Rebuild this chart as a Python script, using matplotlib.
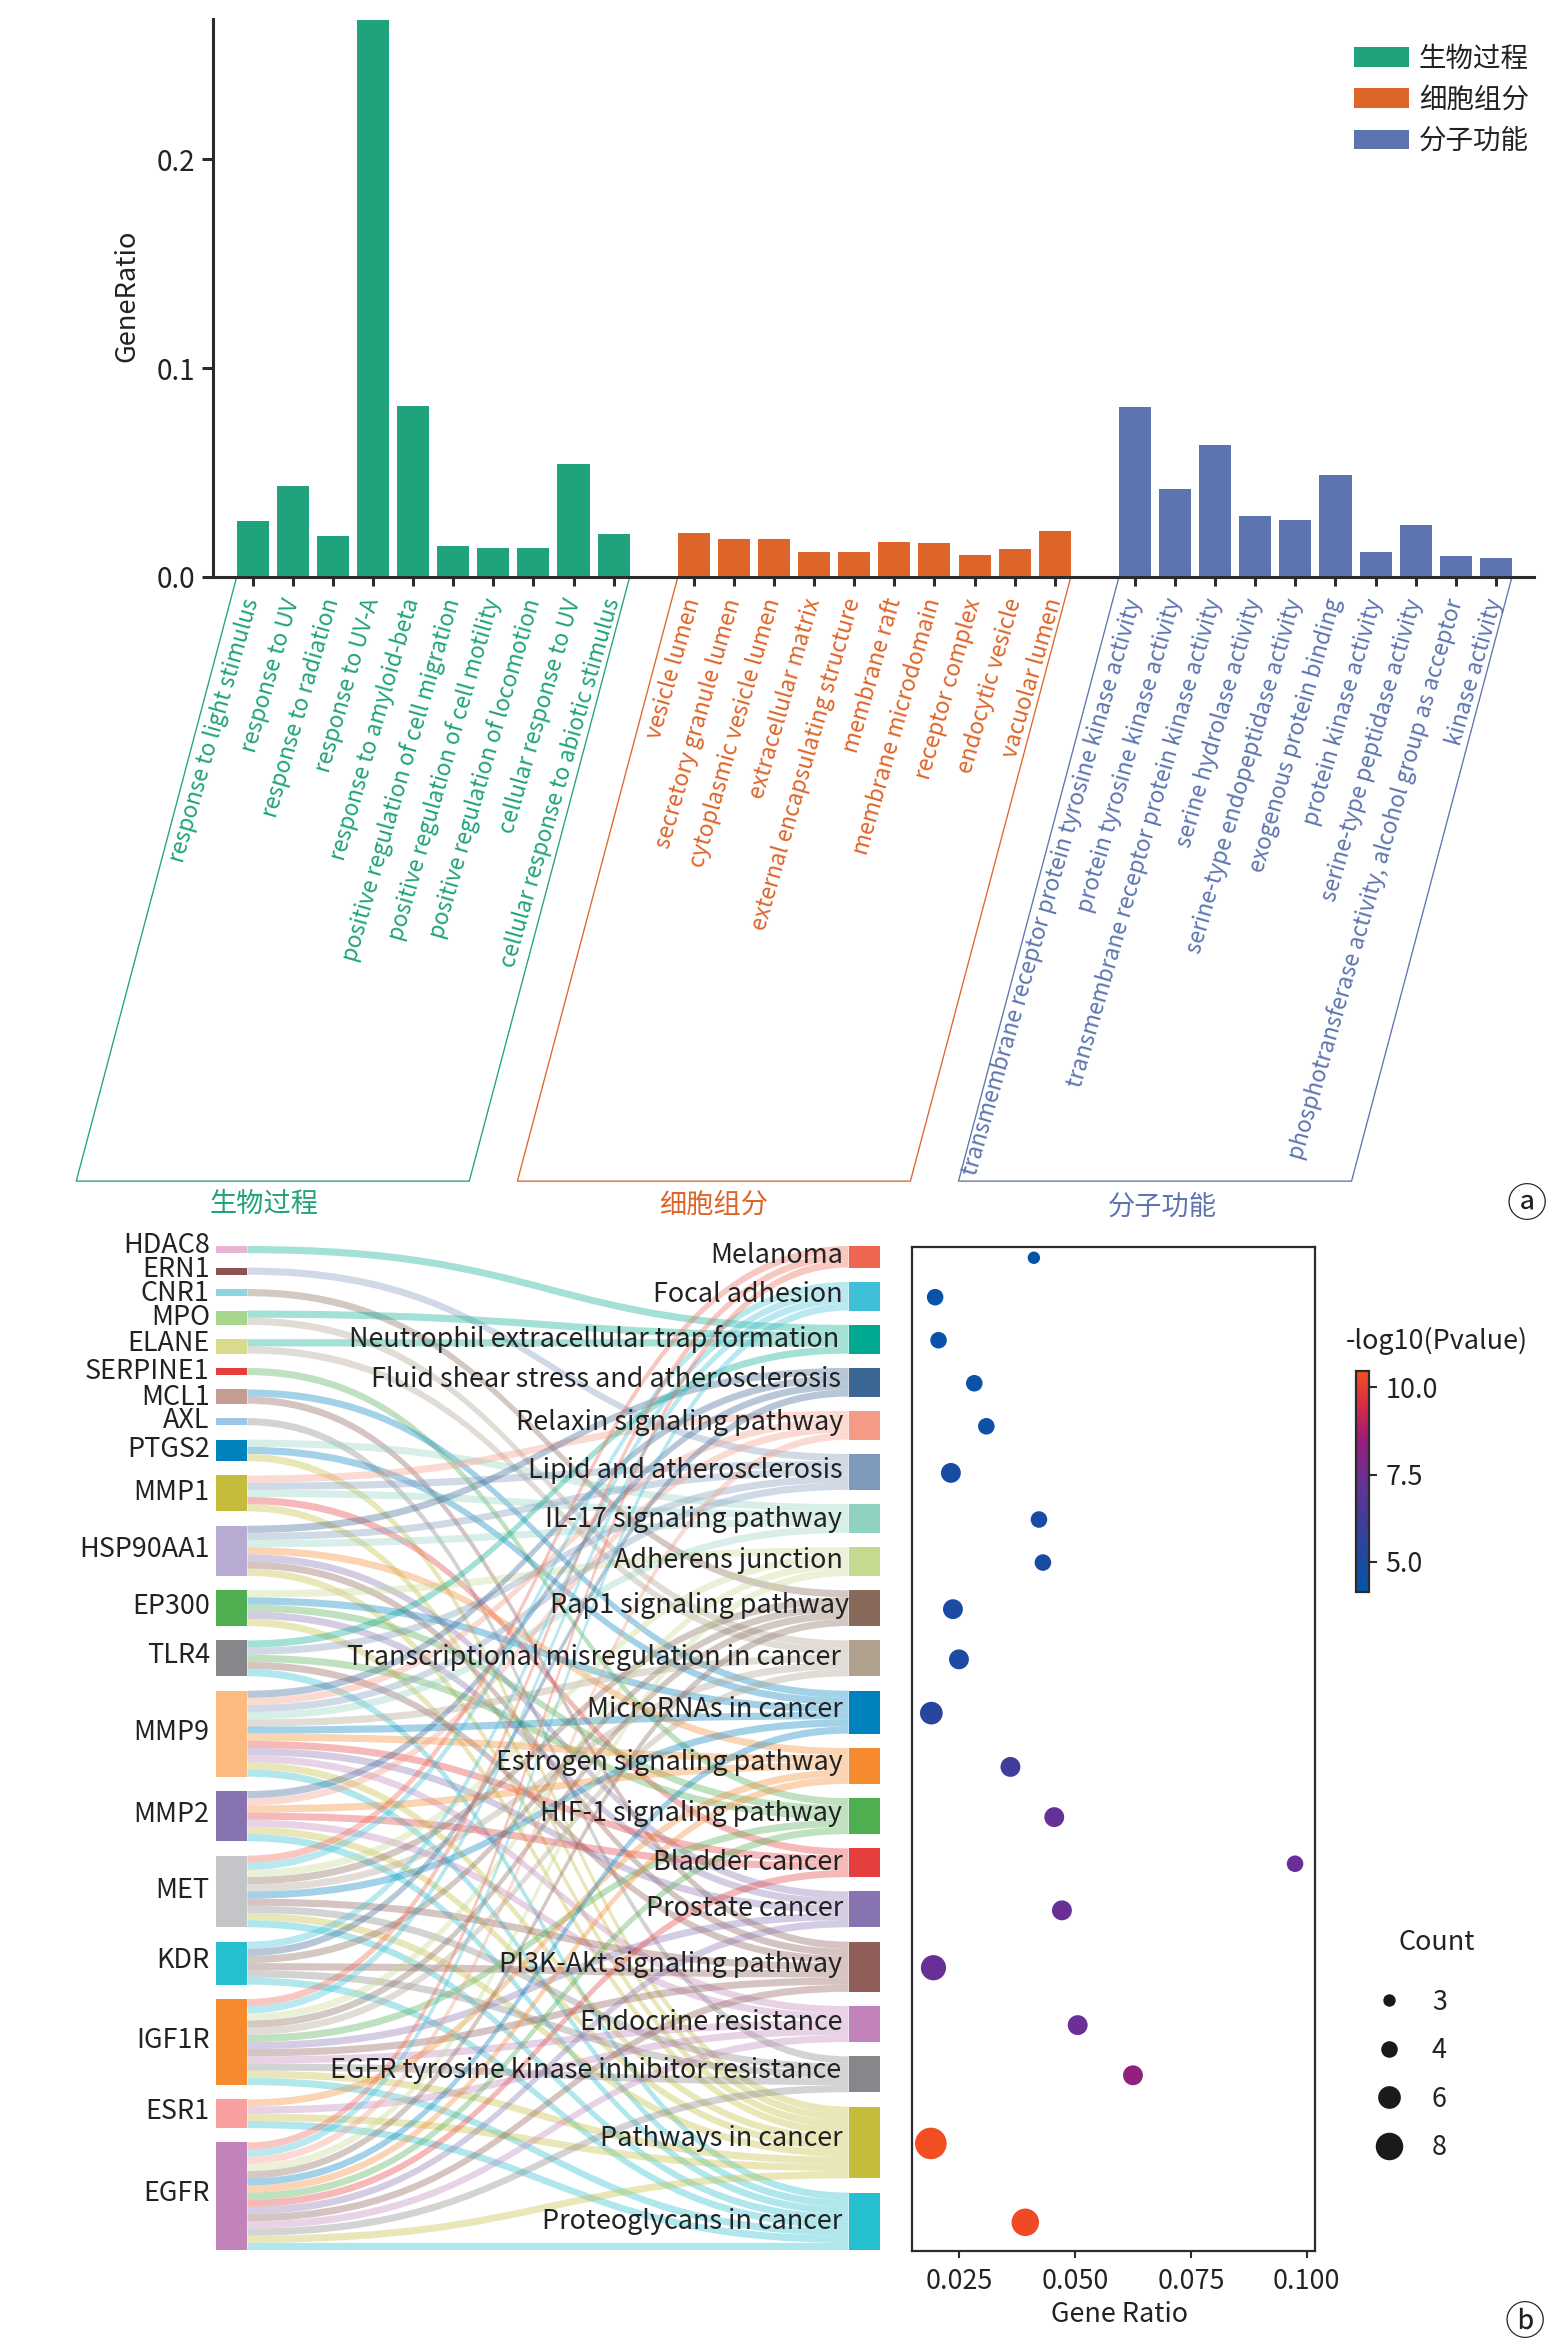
import matplotlib
matplotlib.use('Agg')
import matplotlib.pyplot as plt
import numpy as np
from matplotlib.path import Path
from matplotlib.patches import PathPatch, Patch
from matplotlib.lines import Line2D
from matplotlib.colors import LinearSegmentedColormap

plt.rcParams['font.family'] = ['Noto Sans CJK SC', 'DejaVu Sans']
W, H = 1547, 2339
DARK = '#2b2b2b'
TXT = '#222222'
FS = 19.4

def rect(l, t, r, b):
    return [l / W, 1 - b / H, (r - l) / W, (b - t) / H]

# ---------- panel a data ----------
group_names = ['生物过程', '细胞组分', '分子功能']
group_colors = ['#20A37C', '#DE6529', '#5C75B0']
bp_terms = ['response to light stimulus', 'response to UV', 'response to radiation', 'response to UV-A',
            'response to amyloid-beta', 'positive regulation of cell migration',
            'positive regulation of cell motility', 'positive regulation of locomotion',
            'cellular response to UV', 'cellular response to abiotic stimulus']
bp_values = [0.0266, 0.0437, 0.0196, 0.2667, 0.082, 0.0147, 0.0141, 0.0138, 0.0541, 0.0205]
cc_terms = ['vesicle lumen', 'secretory granule lumen', 'cytoplasmic vesicle lumen', 'extracellular matrix',
            'external encapsulating structure', 'membrane raft', 'membrane microdomain', 'receptor complex',
            'endocytic vesicle', 'vacuolar lumen']
cc_values = [0.0211, 0.0183, 0.018, 0.012, 0.0118, 0.0168, 0.0164, 0.0107, 0.0134, 0.0218]
mf_terms = ['transmembrane receptor protein tyrosine kinase activity', 'protein tyrosine kinase activity',
            'transmembrane receptor protein kinase activity', 'serine hydrolase activity',
            'serine-type endopeptidase activity', 'exogenous protein binding', 'protein kinase activity',
            'serine-type peptidase activity', 'phosphotransferase activity, alcohol group as acceptor',
            'kinase activity']
mf_values = [0.0813, 0.042, 0.063, 0.029, 0.0275, 0.0489, 0.0118, 0.0248, 0.0099, 0.0092]

# ---------- panel b data ----------
pathways = ['Melanoma', 'Focal adhesion', 'Neutrophil extracellular trap formation',
            'Fluid shear stress and atherosclerosis', 'Relaxin signaling pathway', 'Lipid and atherosclerosis',
            'IL-17 signaling pathway', 'Adherens junction', 'Rap1 signaling pathway',
            'Transcriptional misregulation in cancer', 'MicroRNAs in cancer', 'Estrogen signaling pathway',
            'HIF-1 signaling pathway', 'Bladder cancer', 'Prostate cancer', 'PI3K-Akt signaling pathway',
            'Endocrine resistance', 'EGFR tyrosine kinase inhibitor resistance', 'Pathways in cancer',
            'Proteoglycans in cancer']
pathway_colors = ['#EE6650', '#40C0D8', '#00A98F', '#3C6694', '#F39B85', '#7F99BC', '#91D1C2', '#C5D98F',
                  '#88695A', '#B0A08E', '#0082BF', '#F58A2E', '#4FAE4F', '#E53E3E', '#8673AF', '#8F5E58',
                  '#C183BA', '#85878A', '#C4BC3A', '#25BFCF']
gene_ratio = [0.04115, 0.01986, 0.0206, 0.0283, 0.0309, 0.02326, 0.04225, 0.0431, 0.0237, 0.025, 0.01904,
              0.0361, 0.04555, 0.09747, 0.0472, 0.0195, 0.0506, 0.06252, 0.01894, 0.0393]
log_p = [4.3, 4.4, 4.4, 4.5, 4.5, 4.9, 4.9, 4.9, 5.0, 5.0, 5.5, 6.2, 7.2, 7.3, 7.3, 7.3, 7.4, 8.3, 10.4, 10.3]

genes = ['HDAC8', 'ERN1', 'CNR1', 'MPO', 'ELANE', 'SERPINE1', 'MCL1', 'AXL', 'PTGS2', 'MMP1', 'HSP90AA1',
         'EP300', 'TLR4', 'MMP9', 'MMP2', 'MET', 'KDR', 'IGF1R', 'ESR1', 'EGFR']
gene_colors = ['#E9B3D6', '#8C5252', '#8FD4E0', '#A6D68A', '#DBDB8D', '#E53E3E', '#C49C94', '#9EC5E8',
               '#0082BF', '#C4BC3A', '#B7ABD4', '#4FAE4F', '#85878A', '#FDBA7E', '#8673AF', '#C4C5C8',
               '#25BFCF', '#F58A2E', '#F8A0A0', '#C183BA']
HDAC8 = [2]
ERN1 = [5]
CNR1 = [8]
MPO = [2, 9]
ELANE = [2, 9]
SERPINE1 = [12]
MCL1 = [10, 15]
AXL = [17]
PTGS2 = [6, 10, 18]
MMP1 = [4, 5, 6, 13, 18]
HSP90AA1 = [3, 5, 6, 11, 14, 15, 18]
EP300 = [7, 10, 12, 14, 18]
TLR4 = [2, 5, 12, 15, 19]
MMP9 = [3, 4, 5, 6, 9, 10, 11, 13, 14, 16, 18, 19]
MMP2 = [3, 4, 11, 13, 16, 18, 19]
MET = [0, 1, 7, 8, 9, 10, 15, 17, 18, 19]
KDR = [1, 3, 8, 15, 17, 19]
IGF1R = [0, 1, 7, 8, 9, 12, 14, 15, 16, 17, 18, 19]
ESR1 = [11, 16, 18, 19]
EGFR = [0, 1, 4, 7, 8, 10, 11, 12, 13, 14, 15, 16, 17, 18, 19]
gene_links = [HDAC8, ERN1, CNR1, MPO, ELANE, SERPINE1, MCL1, AXL, PTGS2, MMP1, HSP90AA1, EP300, TLR4, MMP9,
              MMP2, MET, KDR, IGF1R, ESR1, EGFR]
legend_counts = [3, 4, 6, 8]

fig = plt.figure(figsize=(W / 100, H / 100), dpi=100, facecolor='white')

# ---------- panel a ----------
ax = fig.add_axes(rect(213, 19, 1534, 577))
term_groups = [bp_terms, cc_terms, mf_terms]
value_groups = [bp_values, cc_values, mf_values]
starts = [0, 11, 22]
all_pos, all_lab, all_col = [], [], []
for g, (terms, vals, s, c) in enumerate(zip(term_groups, value_groups, starts, group_colors)):
    pos = np.arange(len(terms)) + s
    ax.bar(pos, vals, width=0.8, color=c, edgecolor='none')
    all_pos += list(pos); all_lab += terms; all_col += [c] * len(terms)
    depth = -0.2893
    shift = 4.0
    x0, x1 = pos[0] - 0.4, pos[-1] + 0.4
    ax.plot([x0, x0 - shift, x1 - shift, x1], [0, depth, depth, 0], color=c, lw=0.95, clip_on=False,
            solid_joinstyle='miter')
    ax.annotate(group_names[g], ((x0 + x1) / 2 - shift, depth), xytext=([-9, 0, 7][g] * 0.72, [-17, -17, -19][g]),
                textcoords='offset points', ha='center', va='center', color=c, fontsize=19.6, annotation_clip=False)
ax.set_xlim(-0.99, 31.95)
ax.set_ylim(0, 0.2672)
ax.set_xticks(all_pos)
ax.set_xticklabels(all_lab, rotation=74, rotation_mode='anchor', ha='right', va='center', fontsize=16.35)
for t, c in zip(ax.get_xticklabels(), all_col):
    t.set_color(c)
ax.set_yticks([0, 0.1, 0.2])
ax.set_yticklabels(['0.0', '0.1', '0.2'], fontsize=20, color=TXT)
ax.tick_params(axis='x', length=6.8, width=2.2, color=DARK, pad=9)
ax.tick_params(axis='y', length=7.7, width=2.2, color=DARK, pad=5)
ax.set_ylabel('GeneRatio', fontsize=19.6, color=TXT, labelpad=0)
ax.yaxis.set_label_coords((140 - 213) / (1534 - 213), 1 - (296 - 19) / 558)
for s in ['top', 'right']:
    ax.spines[s].set_visible(False)
for s in ['left', 'bottom']:
    ax.spines[s].set_linewidth(2.2)
    ax.spines[s].set_color(DARK)
handles = [Patch(facecolor=c, edgecolor='none', label=n) for c, n in zip(group_colors, group_names)]
ax.legend(handles=handles, loc='upper right', bbox_to_anchor=(1529 / W, 1 - 45.5 / H), bbox_transform=fig.transFigure,
          frameon=False, fontsize=19.8, handlelength=2.0, handleheight=0.72, handletextpad=0.36, labelspacing=0.52,
          borderpad=0, borderaxespad=0, labelcolor=TXT)
fig.text(1527 / W, 1 - 1206 / H, 'ⓐ', fontsize=29, ha='center', va='center', color=TXT)
fig.text(1525 / W, 1 - 2324 / H, 'ⓑ', fontsize=29, ha='center', va='center', color=TXT)

# ---------- panel b sankey ----------
gap = 2.0
sk = fig.add_axes(rect(216, 1246, 880, 2250))
sk.set_xlim(0, 664); sk.set_ylim(140, 0); sk.axis('off')
node_w = 31.4

gene_counts = [len(x) for x in gene_links]
path_members = [[g for g, lst in enumerate(gene_links) if p in lst] for p in range(len(pathways))]
path_counts = [len(x) for x in path_members]

def stack(counts):
    tops, y = [], 0.0
    for c in counts:
        tops.append(y)
        y += c + gap
    return np.array(tops)

gene_tops = stack(gene_counts)
path_tops = stack(path_counts)
path_centers = path_tops + np.array(path_counts) / 2

x0, x1 = node_w, 664 - node_w
xm = (x0 + x1) / 2
for g, lst in enumerate(gene_links):
    for i, p in enumerate(lst):
        j = path_members[p].index(g)
        y0 = gene_tops[g] + i
        y1 = path_tops[p] + j
        verts = [(x0, y0), (xm, y0), (xm, y1), (x1, y1), (x1, y1 + 1), (xm, y1 + 1), (xm, y0 + 1), (x0, y0 + 1), (x0, y0)]
        codes = [Path.MOVETO, Path.CURVE4, Path.CURVE4, Path.CURVE4, Path.LINETO, Path.CURVE4, Path.CURVE4, Path.CURVE4,
                 Path.CLOSEPOLY]
        sk.add_patch(PathPatch(Path(verts, codes), facecolor=pathway_colors[p], edgecolor='none', alpha=0.36, zorder=2))
sk.bar([node_w / 2] * len(genes), gene_counts, bottom=gene_tops, width=node_w, color=gene_colors, zorder=3)
sk.bar([664 - node_w / 2] * len(pathways), path_counts, bottom=path_tops, width=node_w, color=pathway_colors, zorder=3)
# label placement nudges, in points
gene_dy = [-0.7, 1.6, 3.3, 2.6, 0.7, 2.6, 3.3, 1.6, 1.6, 1.6, 1.6, 1.6, 0.8, 1.6, 1.6, 1.6, 0.8, 1.6, 0.8, 0.8]
path_dy = [1.6, 1.6, 2.6, 0.8, 0.8, 1.6, 3.3, 1.6, 0.8, 1.6, 0.8, 0, 0.8, 2.6, 1.6, 0.8, 1.6, 0, 0, 2.6]
path_dx = [0, -0.5, -2.5, -1.5, 0, -0.5, -0.5, 0, 4, -1.5, 0, -0.5, -0.5, 0, 0, -0.5, -0.5, -1.5, -0.5, -0.5]
for g, n in enumerate(genes):
    sk.annotate(n, (0, gene_tops[g] + gene_counts[g] / 2), xytext=(-4.5, 2.5 - gene_dy[g]), textcoords='offset points',
                ha='right', va='center', fontsize=FS, color=TXT, annotation_clip=False, zorder=5)
for p, n in enumerate(pathways):
    sk.annotate(n, (x1, path_centers[p]), xytext=(-4 + path_dx[p], 2.5 - path_dy[p]), textcoords='offset points',
                ha='right', va='center', fontsize=FS, color=TXT, zorder=5)

# ---------- panel b dots ----------
cmap = LinearSegmentedColormap.from_list('p', [(0, '#0055AA'), (0.30, '#3B3F9B'), (0.53, '#6F2E96'), (0.69, '#9A1C7A'),
                                               (0.84, '#D42A45'), (1, '#F4511E')])
def size_of(c):
    d_px = np.sqrt(154 + 120.6 * (np.asarray(c, dtype=float) - 3))
    return (d_px * 0.72) ** 2

dp = fig.add_axes(rect(912.4, 1247, 1315, 2251))
sc = dp.scatter(gene_ratio, path_centers, s=size_of(path_counts), c=log_p, cmap=cmap, vmin=4.126, vmax=10.48,
                linewidths=0, zorder=3)
dp.set_xlim(0.01496, 0.10177)
dp.set_ylim(140, 0)
dp.set_yticks([])
dp.set_xticks([0.025, 0.05, 0.075, 0.1])
dp.set_xticklabels(['0.025', '0.050', '0.075', '0.100'], fontsize=FS, color=TXT)
dp.tick_params(axis='x', length=5, width=1.5, color=DARK, pad=7)
dp.set_xlabel('Gene Ratio', fontsize=FS, color=TXT, labelpad=4.5, x=0.515)
for s in dp.spines.values():
    s.set_linewidth(1.6)
    s.set_color(DARK)

cax = fig.add_axes(rect(1356, 1370.7, 1368.7, 1592.3))
cb = fig.colorbar(sc, cax=cax)
cb.set_ticks([5, 7.5, 10])
cb.set_ticklabels(['5.0', '7.5', '10.0'], fontsize=FS, color=TXT)
cb.ax.tick_params(length=6, width=1.5, color=DARK, pad=6)
cb.outline.set_linewidth(1.6)
cb.outline.set_edgecolor(DARK)
fig.text(1437 / W, 1 - 1341 / H, '-log10(Pvalue)', fontsize=FS, ha='center', va='center', color=TXT)

fig.text(1437 / W, 1 - 1943 / H, 'Count', fontsize=FS, ha='center', va='center', color=TXT)
size_handles = [Line2D([], [], linestyle='none', marker='o', color='#1a1a1a', markeredgewidth=0,
                       markersize=np.sqrt(size_of(c)), label=str(c)) for c in legend_counts]
fig.legend(handles=size_handles, loc='upper left', bbox_to_anchor=(1370 / W, 1 - 1988.5 / H),
           frameon=False, fontsize=FS, labelspacing=0.8, handletextpad=0.9, handlelength=1.4,
           borderpad=0, borderaxespad=0, labelcolor=TXT)

fig.savefig('out.png', dpi=100, facecolor='white')
